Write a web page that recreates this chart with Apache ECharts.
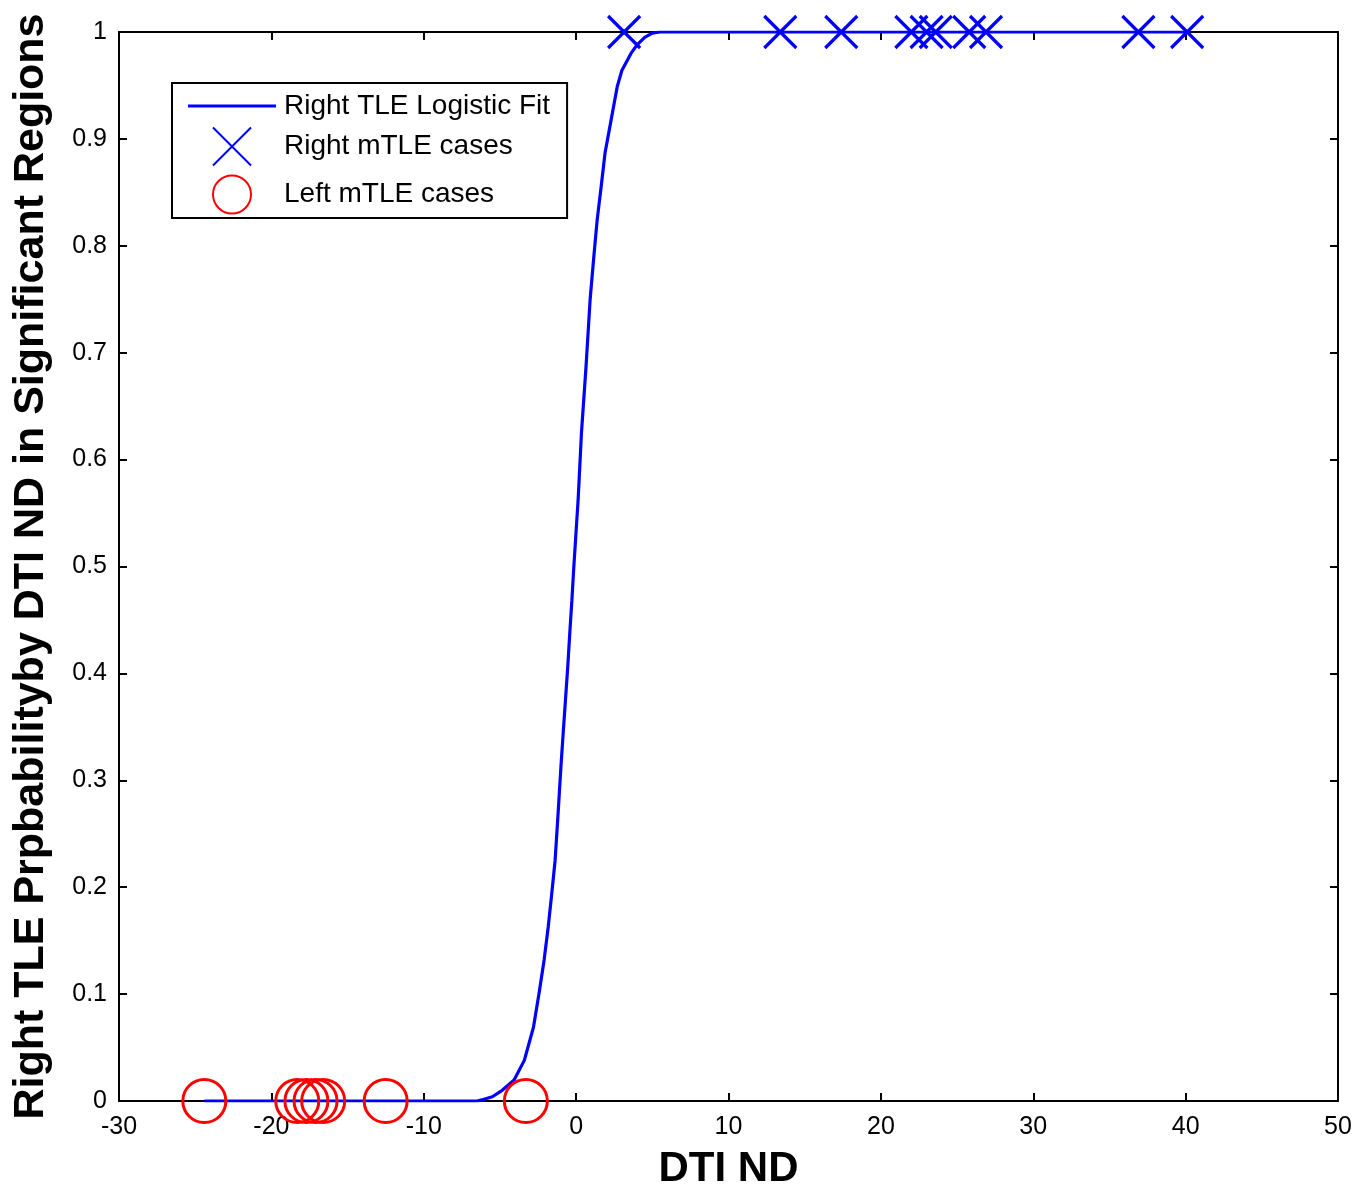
<!DOCTYPE html>
<html>
<head>
<meta charset="utf-8">
<script src="https://cdn.jsdelivr.net/npm/echarts@6/dist/echarts.min.js"></script>
<style>
html,body{margin:0;padding:0;background:#fff;}
#chart{width:1371px;height:1192px;}
</style>
</head>
<body>
<div id="chart"></div>
<script>
// Logistic fit curve
const fitX = [-24.4, -6.5, -6.2, -5.5, -4.85, -4.07, -3.4, -2.8, -2.43, -2.1, -1.83, -1.6, -1.38, -1.2, -1.0, -0.85, -0.7, -0.55, -0.42, -0.28, -0.15, 0.13, 0.35, 0.65, 0.92, 1.18, 1.38, 1.64, 1.9, 2.3, 2.7, 3.0, 3.6, 4.0, 4.5, 5.0, 5.5, 40.1];
const fitY = [0, 0, 0.001, 0.004, 0.010, 0.0196, 0.038, 0.069, 0.101, 0.132, 0.163, 0.194, 0.225, 0.265, 0.312, 0.344, 0.375, 0.406, 0.437, 0.468, 0.5, 0.562, 0.625, 0.687, 0.75, 0.793, 0.824, 0.855, 0.887, 0.918, 0.949, 0.964, 0.98, 0.988, 0.995, 0.999, 1, 1];
// Right mTLE cases
const rightX = [3.15, 13.4, 17.4, 22.0, 23.0, 23.6, 25.8, 26.9, 36.9, 40.1];
const rightY = [1, 1, 1, 1, 1, 1, 1, 1, 1, 1];
// Left mTLE cases
const leftX = [-24.4, -18.3, -17.7, -17.1, -16.6, -12.5, -3.3];
const leftY = [0, 0, 0, 0, 0, 0, 0];
// Axes
const xMin = -30, xMax = 50, xStep = 10;
const yMin = 0, yMax = 1, yStep = 0.1;

const zip = (a, b) => a.map((v, i) => [v, b[i]]);
const FONT = '"Liberation Sans", Arial, sans-serif';

const chart = echarts.init(document.getElementById('chart'), null, {renderer: 'canvas'});

const axisCommon = {
  axisLine: {show: true, onZero: false, lineStyle: {color: '#000', width: 2}},
  axisTick: {show: true, inside: true, length: 8, lineStyle: {color: '#000', width: 2}},
  splitLine: {show: false}
};

chart.setOption({
  backgroundColor: '#fff',
  animation: false,
  grid: {left: 119, right: 33, top: 32, bottom: 91, containLabel: false, outerBoundsMode: 'none'},
  legend: {
    orient: 'vertical',
    left: 172, top: 83,
    itemWidth: 88, itemHeight: 38, itemGap: 5,
    padding: [9, 17, 2, 16],
    backgroundColor: '#fff',
    borderColor: '#000', borderWidth: 2,
    textStyle: {fontFamily: FONT, fontSize: 28, color: '#000', padding: [0, 0, 0, 3]},
    data: [
      {name: 'Right TLE Logistic Fit', icon: 'path://M0,0L88,0L88,3.2L0,3.2Z', itemStyle: {color: '#0000ff', borderWidth: 0}},
      {name: 'Right mTLE cases'},
      {name: 'Left mTLE cases'}
    ]
  },
  xAxis: [
    Object.assign({
      type: 'value', min: xMin, max: xMax, interval: xStep, position: 'bottom',
      name: 'DTI ND', nameLocation: 'middle', nameGap: 47,
      nameTextStyle: {fontFamily: FONT, fontSize: 42, fontWeight: 'bold', color: '#000'},
      axisLabel: {fontFamily: FONT, fontSize: 25, color: '#000', margin: 14}
    }, axisCommon),
    Object.assign({
      type: 'value', min: xMin, max: xMax, interval: xStep, position: 'top',
      axisLabel: {show: false}
    }, axisCommon)
  ],
  yAxis: [
    Object.assign({
      type: 'value', min: yMin, max: yMax, interval: yStep, position: 'left',
      name: 'Right TLE Prpbabilityby DTI ND in Significant Regions',
      nameLocation: 'middle', nameGap: 66,
      nameTextStyle: {fontFamily: FONT, fontSize: 43, fontWeight: 'bold', color: '#000'},
      axisLabel: {fontFamily: FONT, fontSize: 25, color: '#000', margin: 12,
        formatter: v => String(Math.round(v * 10) / 10)}
    }, axisCommon),
    Object.assign({
      type: 'value', min: yMin, max: yMax, interval: yStep, position: 'right',
      axisLabel: {show: false}
    }, axisCommon)
  ],
  series: [
    {
      name: 'Right TLE Logistic Fit', type: 'line', xAxisIndex: 0, yAxisIndex: 0,
      data: zip(fitX, fitY), symbol: 'none', showSymbol: false, smooth: false,
      lineStyle: {color: '#0000ff', width: 3.2},
      itemStyle: {color: '#0000ff'}, z: 2
    },
    {
      name: 'Right mTLE cases', type: 'scatter', xAxisIndex: 0, yAxisIndex: 0,
      data: zip(rightX, rightY),
      symbol: 'path://M0,0L10,10M10,0L0,10', symbolSize: 32,
      itemStyle: {color: 'none', borderColor: '#0000ff', borderWidth: 3.2, opacity: 1},
      z: 3
    },
    {
      name: 'Left mTLE cases', type: 'scatter', xAxisIndex: 0, yAxisIndex: 0,
      data: zip(leftX, leftY),
      symbol: 'circle', symbolSize: 43,
      itemStyle: {color: 'none', borderColor: '#ff0000', borderWidth: 3, opacity: 1},
      z: 3
    }
  ]
});
</script>
</body>
</html>
